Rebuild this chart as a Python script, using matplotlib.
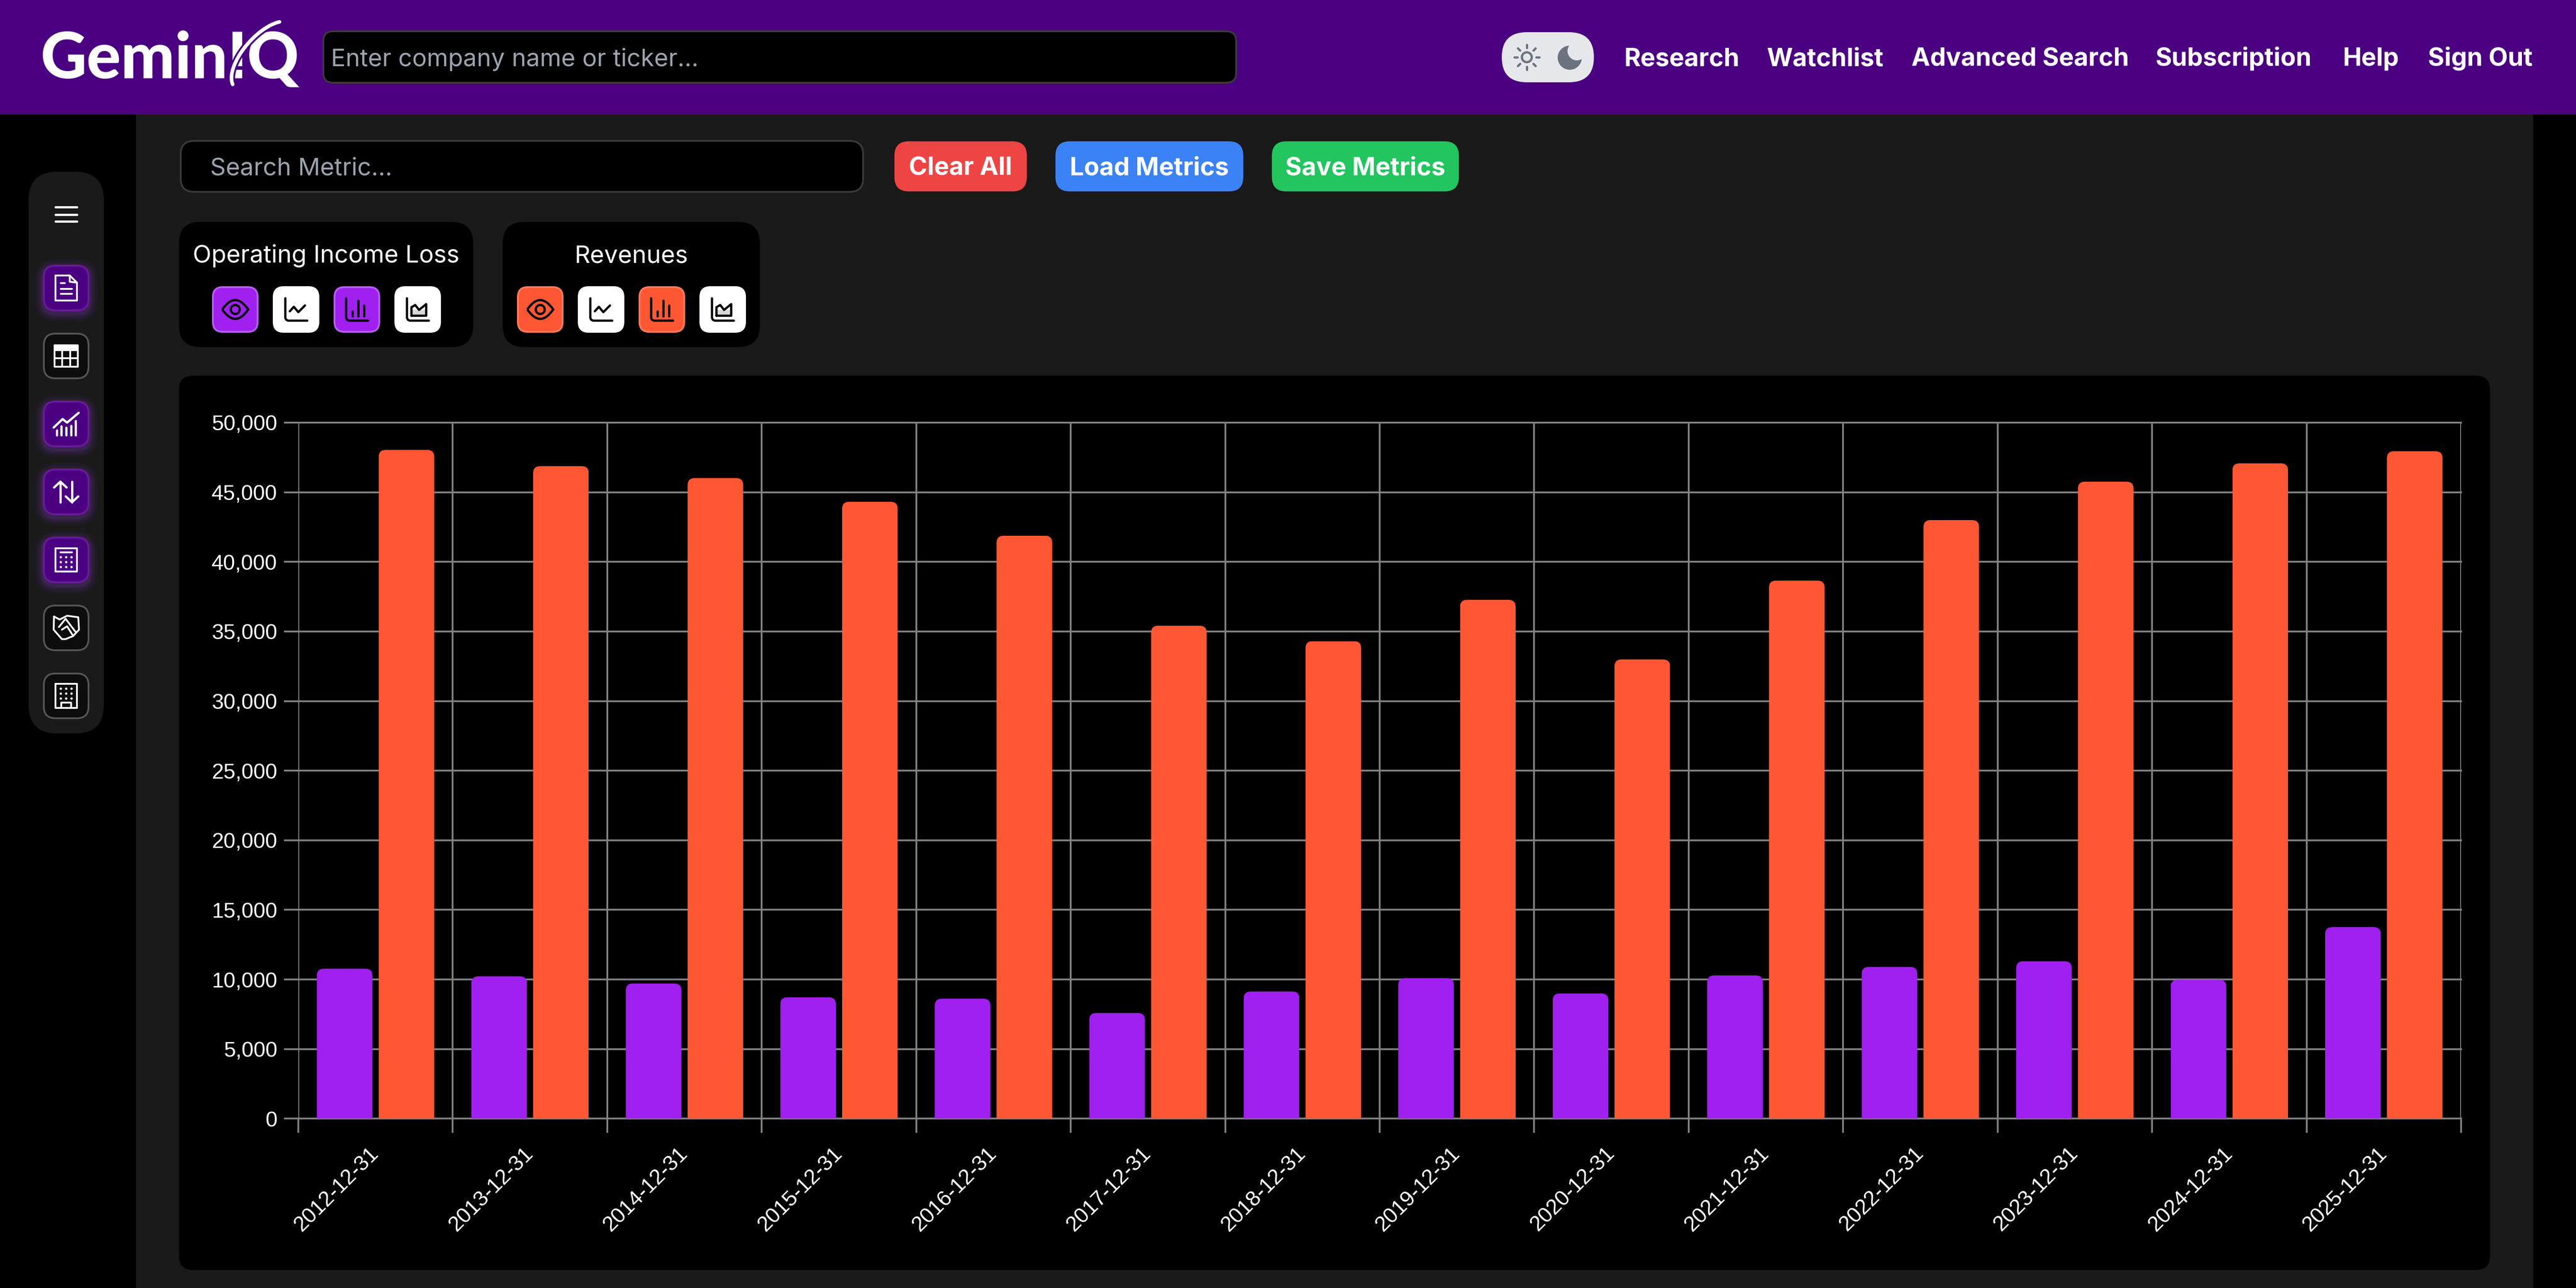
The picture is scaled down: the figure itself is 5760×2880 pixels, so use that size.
import numpy as np
import matplotlib
matplotlib.use("Agg")
import matplotlib.pyplot as plt
from matplotlib.patches import FancyBboxPatch, Rectangle, PathPatch, Circle, Polygon
from matplotlib.path import Path

periods = ["2012-12-31", "2013-12-31", "2014-12-31", "2015-12-31", "2016-12-31", "2017-12-31", "2018-12-31",
           "2019-12-31", "2020-12-31", "2021-12-31", "2022-12-31", "2023-12-31", "2024-12-31", "2025-12-31"]
operating_income_loss = [10770, 10225, 9710, 8715, 8620, 7590, 9135, 10095, 8995, 10290, 10900, 11305, 9980, 13760]
revenues = [48040, 46875, 46015, 44315, 41875, 35410, 34305, 37270, 32990, 38650, 43000, 45760, 47075, 47945]
y_ticks = [0, 5000, 10000, 15000, 20000, 25000, 30000, 35000, 40000, 45000, 50000]
y_labels = ["0", "5,000", "10,000", "15,000", "20,000", "25,000", "30,000", "35,000", "40,000", "45,000", "50,000"]
nav_items = ["Research", "Watchlist", "Advanced Search", "Subscription", "Help", "Sign Out"]
nav_left = [3631, 3951, 4274, 4820, 5238, 5429]

INDIGO = "#4B0082"; PANEL = "#1A1A1A"; PURPLE = "#A020F0"; ORANGE = "#FF5733"; GRID = "#808080"
PX = 0.72
UI = "Inter"
BODY = 54.5

fig = plt.figure(figsize=(57.6, 28.8), dpi=100, facecolor="black")
ui = fig.add_axes([0, 0, 1, 1], zorder=0)
ui.set_xlim(0, 5760); ui.set_ylim(2880, 0); ui.axis("off")


def rrect(x0, y0, x1, y1, r, fc, ec="none", bw=0, z=1, alpha=None):
    ins = bw / 2
    x0 += ins; y0 += ins; x1 -= ins; y1 -= ins; r = max(r - ins, 0.1)
    p = FancyBboxPatch((x0 + r, y0 + r), x1 - x0 - 2 * r, y1 - y0 - 2 * r,
                       boxstyle=f"round,pad={r},rounding_size={r}", fc=fc, ec=ec, lw=bw * PX, zorder=z, alpha=alpha)
    ui.add_patch(p)
    return p


def txt(x, y, s, px, weight=400, color="white", ha="left", family=UI, z=5):
    return ui.text(x, y, s, fontsize=px * PX, fontweight=weight, color=color, ha=ha, va="baseline",
                   family=family, zorder=z)


def stroke(pts, color="white", w=4.0, z=6, cx=0, cy=0, close=False):
    a = np.array(pts, dtype=float)
    if close:
        a = np.vstack([a, a[:1]])
    ui.plot(a[:, 0] + cx, a[:, 1] + cy, color=color, lw=w * PX, solid_capstyle="round",
            solid_joinstyle="round", zorder=z)


# page
ui.add_patch(Rectangle((304, 256), 5664 - 304, 2624, fc=PANEL, ec="none", zorder=0.5))
ui.add_patch(Rectangle((0, 0), 5760, 256, fc=INDIGO, ec="none", zorder=0.6))

# logo
txt(90, 175, "GeminIQ", 143, 900, family="Lato")
ui.add_patch(Rectangle((520, 148), 36, 8, fc=INDIGO, ec="none", zorder=5.5))
theta = np.radians(np.linspace(0, 360, 100))
ox = 45 * np.cos(theta); oy = 100 * np.sin(theta) * 0.96
rot = np.radians(42)
ex = 590 + ox * np.cos(rot) - oy * np.sin(rot)
ey = 125 + ox * np.sin(rot) + oy * np.cos(rot)
ui.plot(ex[28:66], ey[28:66], color=INDIGO, lw=16 * PX, zorder=6)
ui.plot(ex[28:66], ey[28:66], color="white", lw=8 * PX, zorder=7, solid_capstyle="round")

# header search
rrect(721, 68, 2766, 187, 24, "black", "#3A3A3A", 4, z=2)
txt(740, 148, "Enter company name or ticker...", BODY, 400, "#9CA3AF")

# theme toggle
rrect(3358, 72, 3564, 184, 56, "#E5E7EB", z=2)
sx, sy = 3414, 128
ui.add_patch(Circle((sx, sy), 11, fc="none", ec="#6B7280", lw=5 * PX, zorder=3))
for a in np.radians(np.arange(0, 360, 45)):
    stroke([(sx + 21 * np.cos(a), sy + 21 * np.sin(a)), (sx + 28 * np.cos(a), sy + 28 * np.sin(a))], "#6B7280", 5, z=3)
ui.add_patch(Circle((3510, 129), 27, fc="#6B7280", ec="none", zorder=3))
ui.add_patch(Circle((3526, 114), 21, fc="#E5E7EB", ec="none", zorder=3.1))

for s, x in zip(nav_items, nav_left):
    txt(x, 147, s, 56, 700)

# sidebar
rrect(64, 384, 232, 1640, 64, PANEL, z=1)
for y in (463, 479.5, 495):
    stroke([(124, y), (172, y)], "white", 5)

side_top = [592, 744, 896, 1048, 1200, 1352, 1504]
side_active = [True, False, True, True, True, False, False]
for top, on in zip(side_top, side_active):
    if on:
        for g, al in zip((18, 13, 8, 4), (0.05, 0.07, 0.09, 0.12)):
            rrect(96 - g, top - g + 5, 200 + g, top + 104 + g + 5, 28 + g, "#8A3FD0", z=1.5, alpha=al)
        rrect(96, top, 200, top + 104, 28, INDIGO, "#6A1B9A", 4, z=2)
    else:
        rrect(96, top, 200, top + 104, 28, "#0D0D0D", "#555555", 4, z=2)

# document icon
c = (148, 644)
stroke([(-24, -28), (8, -28), (24, -12), (24, 28), (-24, 28)], cx=c[0], cy=c[1], close=True)
stroke([(8, -28), (8, -14), (24, -12)], cx=c[0], cy=c[1])
stroke([(-12, -11), (-3, -11)], cx=c[0], cy=c[1])
stroke([(-12, 2), (13, 2)], cx=c[0], cy=c[1])
stroke([(-12, 13), (13, 13)], cx=c[0], cy=c[1])
# table icon
c = (148, 796)
stroke([(-26, -24), (26, -24), (26, 24), (-26, 24)], cx=c[0], cy=c[1], close=True)
ui.add_patch(Rectangle((c[0] - 26, c[1] - 24), 52, 9, fc="white", ec="none", zorder=6))
stroke([(-26, -13), (26, -13)], cx=c[0], cy=c[1])
stroke([(-26, 5), (26, 5)], cx=c[0], cy=c[1])
stroke([(-9, -13), (-9, 24)], cx=c[0], cy=c[1])
stroke([(9, -13), (9, 24)], cx=c[0], cy=c[1])
# growth icon
c = (148, 948)
stroke([(-28, 8), (-8, -11), (2, -3), (28, -25)], cx=c[0], cy=c[1], w=5)
for dx, t in zip((-21, -11, 0, 11, 21), (14, 5, 8, 4, -7)):
    stroke([(dx, t), (dx, 25)], cx=c[0], cy=c[1], w=5)
# arrows icon
c = (148, 1100)
stroke([(-13, 23), (-13, -23)], cx=c[0], cy=c[1], w=5)
stroke([(-27, -10), (-13, -23), (1, -10)], cx=c[0], cy=c[1], w=5)
stroke([(13, -23), (13, 23)], cx=c[0], cy=c[1], w=5)
stroke([(-1, 10), (13, 23), (27, 10)], cx=c[0], cy=c[1], w=5)
# calculator icon
c = (148, 1252)
stroke([(-24, -26), (24, -26), (24, 26), (-24, 26)], cx=c[0], cy=c[1], close=True)
stroke([(-13, -17), (13, -17)], cx=c[0], cy=c[1])
for dy in (-6, 5, 16):
    for dx in (-12, 0, 12):
        ui.add_patch(Circle((c[0] + dx, c[1] + dy), 2.6, fc="white", ec="none", zorder=6))
# handshake icon
hs = lambda v: (v[0] / 3, 360 + v[1] / 1.188)
stroke([hs(v) for v in [(362, 1210), (400, 1218), (450, 1208), (525, 1212), (530, 1245), (490, 1262), (440, 1270),
                        (415, 1270), (360, 1245)]], close=True)
stroke([hs(v) for v in [(395, 1238), (440, 1216), (505, 1250)]])
stroke([hs(v) for v in [(415, 1245), (450, 1236), (485, 1258)]])
# building icon
c = (148, 1556)
stroke([(-24, -27), (24, -27), (24, 27), (-24, 27)], cx=c[0], cy=c[1], close=True)
for dy in (-16, -5, 6):
    for dx in (-12, 0, 12):
        ui.add_patch(Circle((c[0] + dx, c[1] + dy), 2.6, fc="white", ec="none", zorder=6))
stroke([(-11, 27), (-11, 15), (11, 15), (11, 27)], cx=c[0], cy=c[1])

# controls
rrect(402, 313, 1932, 431, 32, "black", "#3A3A3A", 4, z=2)
txt(470, 391, "Search Metric...", BODY, 400, "#9CA3AF")
for x0, x1, col, s in [(2000, 2296, "#EF4444", "Clear All"), (2360, 2780, "#3B82F6", "Load Metrics"),
                       (2844, 3262, "#22C55E", "Save Metrics")]:
    rrect(x0, 316, x1, 428, 32, col, z=2)
    txt((x0 + x1) / 2, 392, s, 56, 700, ha="center")


def eye(cx, cy):
    verts = [(-29, 0), (0, -42), (29, 0), (0, 42), (-29, 0)]
    codes = [Path.MOVETO, Path.CURVE3, Path.CURVE3, Path.CURVE3, Path.CURVE3]
    ui.add_patch(PathPatch(Path([(cx + a, cy + b) for a, b in verts], codes), fc="none", ec="black",
                           lw=5 * PX, zorder=6))
    ui.add_patch(Circle((cx, cy), 10, fc="none", ec="black", lw=5 * PX, zorder=6))


L_AXIS = [(-24, -25), (-24, 19), (-22, 23), (-18, 25), (25, 25)]


def metric_card(x0, x1, name, btns, col, light):
    rrect(x0, 496, x1, 776, 48, "black", z=1.5)
    txt((x0 + x1) / 2, 587, name, BODY, 400, ha="center")
    for i, bx in enumerate(btns):
        on = i in (0, 2)
        rrect(bx, 640, bx + 104, 744, 24, col if on else "white", light if on else "white", 4, z=2)
        cx, cy = bx + 52, 692
        if i == 0:
            eye(cx, cy)
        else:
            stroke(L_AXIS, "black", 5, cx=cx, cy=cy)
        if i == 1:
            stroke([(-14, 4), (-5, -6), (5, 6), (20, -9)], "black", 5, cx=cx, cy=cy)
        if i == 2:
            for dx, t in zip((-10.5, 3, 16), (4, -20, -9)):
                stroke([(dx, t), (dx, 15)], "black", 5, cx=cx, cy=cy)
        if i == 3:
            ui.add_patch(Polygon([(cx - 14, cy + 1), (cx + 19, cy + 1), (cx + 19, cy + 14), (cx - 14, cy + 14)],
                                 fc="#D8D8D8", ec="none", zorder=5))
            stroke([(-14, 14), (-14, -5), (-5.6, -10), (3, 1), (19, -12), (19, 14)], "black", 5, cx=cx, cy=cy,
                   close=True)


metric_card(400, 1058, "Operating Income Loss", [474, 610, 746, 882], PURPLE, "#BA5EF5")
metric_card(1124, 1699, "Revenues", [1156, 1292, 1428, 1564], ORANGE, "#FF7A5C")

# chart card
rrect(400, 840, 5568, 2840, 32, "black", z=1.5)

# chart
L, R, T, B = 667, 5503, 945, 2501.4
ax = fig.add_axes([L / 5760, (2880 - B) / 2880, (R - L) / 5760, (B - T) / 2880], zorder=1)
ax.set_facecolor("none")
for s in ax.spines.values():
    s.set_visible(False)
x = np.arange(len(periods))
ax.set_xlim(-0.5, len(periods) - 0.5)
ax.set_ylim(0, 50000)
offset, width = 0.2, 0.36
b1 = ax.bar(x - offset, operating_income_loss, width, color=PURPLE, zorder=3)
b2 = ax.bar(x + offset, revenues, width, color=ORANGE, zorder=3)
ux = (R - L) / len(periods)
uy = (B - T) / 50000
r_px = 16
for bars in (b1, b2):
    for b in bars:
        x0, w, h = b.get_x(), b.get_width(), b.get_height()
        rx = r_px / ux
        clip = FancyBboxPatch((x0 + rx, -2000), w - 2 * rx, h + 2000 - r_px / uy,
                              boxstyle=f"round,pad={rx},rounding_size={rx}",
                              mutation_aspect=(r_px / uy) / rx, transform=ax.transData, fc="none", ec="none")
        b.set_clip_path(clip)

ax.set_yticks(y_ticks, y_labels)
ax.set_xticks(x, periods, rotation=45, ha="right", va="center", rotation_mode="anchor")
ax.set_xticks(np.arange(len(periods) + 1) - 0.5, minor=True)
ax.tick_params(axis="x", which="major", length=0, pad=51, labelsize=48 * PX, labelcolor="white")
ax.tick_params(axis="x", which="minor", length=32 * PX, width=4 * PX, color=GRID)
ax.tick_params(axis="y", length=32 * PX, width=4 * PX, color=GRID, pad=15 * PX, labelsize=48 * PX, labelcolor="white")
for t in ax.get_xticklabels() + ax.get_yticklabels():
    t.set_family("Liberation Sans")
ax.set_axisbelow(True)
ax.grid(axis="x", which="minor", color=GRID, lw=4 * PX, zorder=1)
ax.grid(axis="y", which="major", color=GRID, lw=4 * PX, zorder=1)
for gl in ax.get_ygridlines():
    gl.set_clip_on(False)

fig.savefig("out.png", dpi=100, facecolor="black")
